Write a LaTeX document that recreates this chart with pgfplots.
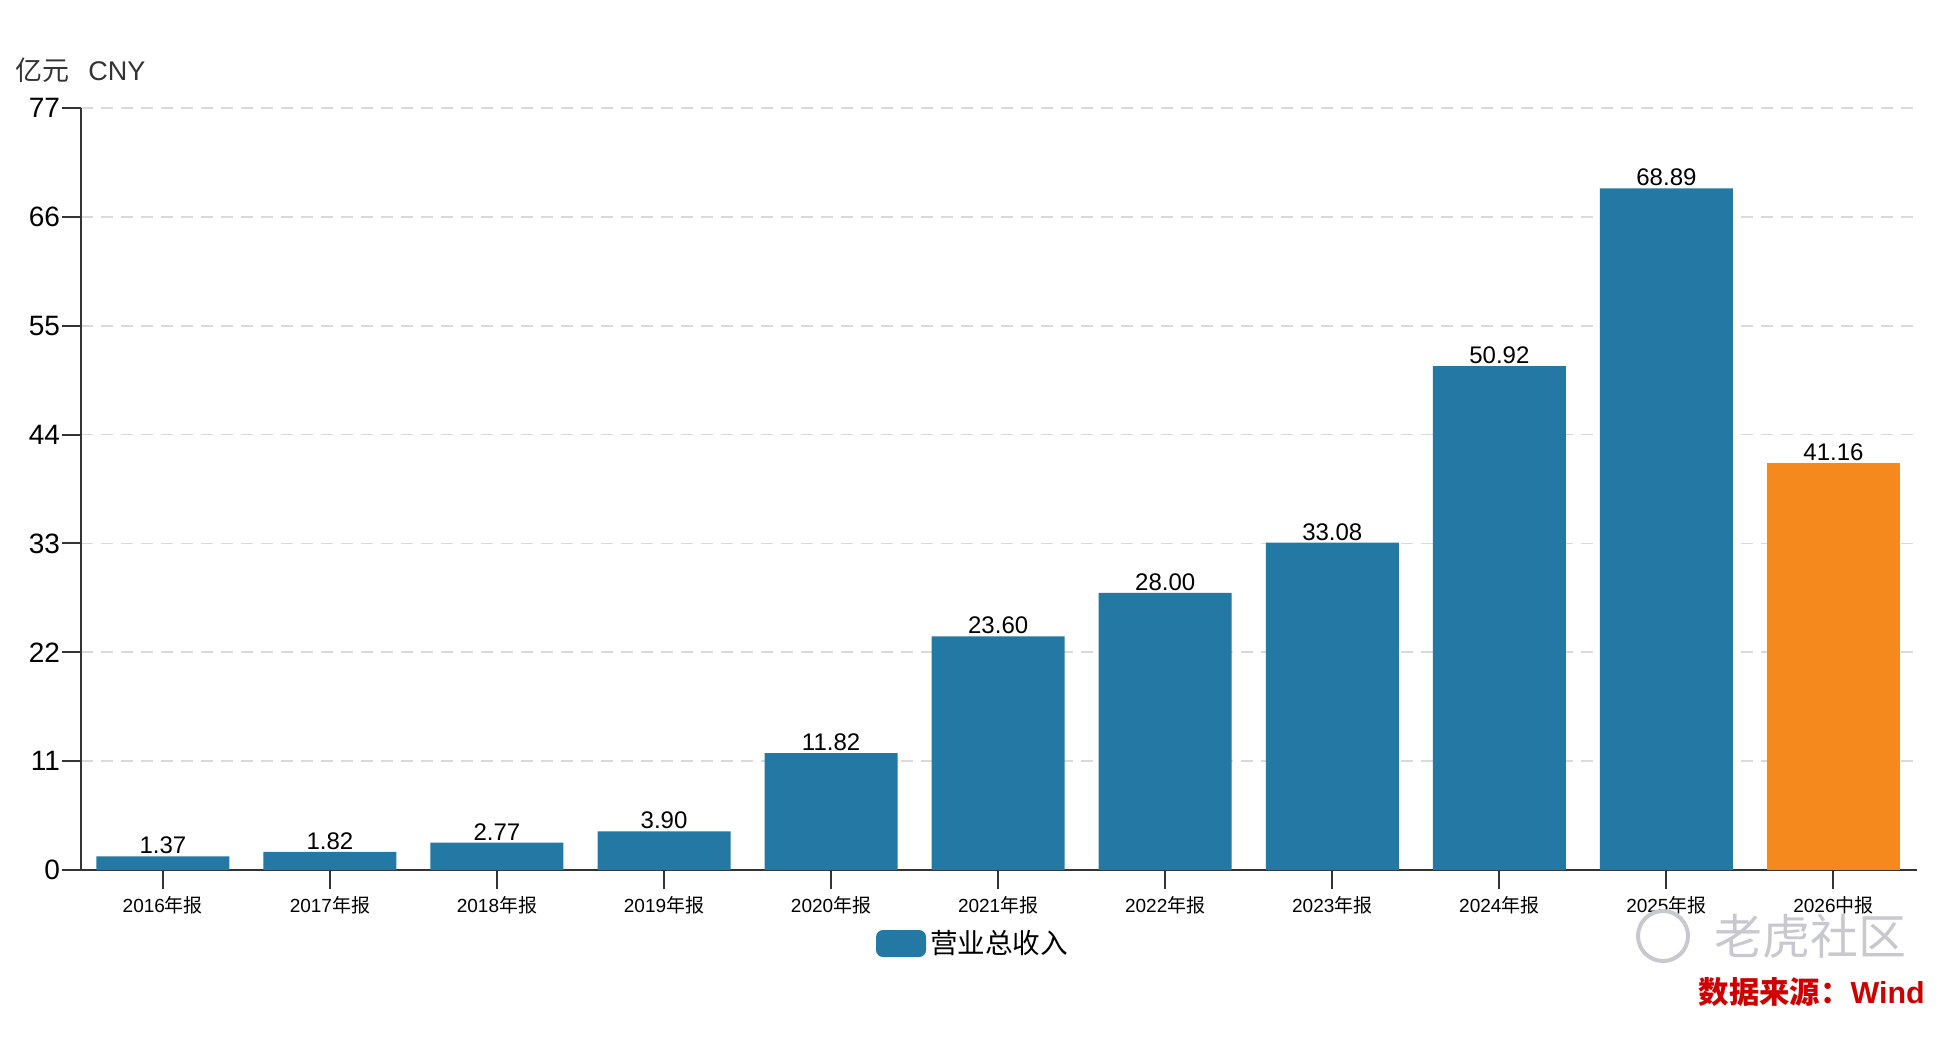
\documentclass[border=0pt]{standalone}
\usepackage{fontspec}
\setmainfont{Liberation Sans}
\newfontfamily\cjk{Noto Sans CJK SC}
\usepackage{pgfplots}
\pgfplotsset{compat=1.18}
\definecolor{barblue}{RGB}{35,120,164}
\definecolor{barorange}{RGB}{246,137,30}
\definecolor{axgray}{RGB}{51,51,51}
\definecolor{gridgray}{RGB}{218,218,218}
\definecolor{srcred}{RGB}{208,0,0}
\definecolor{wmgray}{RGB}{200,201,206}
\begin{document}
\begin{tikzpicture}[x=1pt,y=1pt]
\path (0,0) rectangle (972,523);
\begin{axis}[
  at={(40.5pt,88pt)}, anchor=south west,
  scale only axis, width=918pt, height=381pt,
  xmin=-0.49, xmax=10.5, ymin=0, ymax=77,
  ytick={0,11,22,33,44,55,66,77},
  xtick={0,1,2,3,4,5,6,7,8,9,10},
  xticklabels={{2016{\cjk 年报}},{2017{\cjk 年报}},{2018{\cjk 年报}},{2019{\cjk 年报}},{2020{\cjk 年报}},{2021{\cjk 年报}},{2022{\cjk 年报}},{2023{\cjk 年报}},{2024{\cjk 年报}},{2025{\cjk 年报}},{2026{\cjk 中报}}},
  axis x line=bottom, axis y line=left,
  axis line style={axgray, line width=1pt, -},
  tick align=outside,
  major tick length=9.5pt,
  tick style={axgray, line width=1pt},
  ymajorgrids,
  major grid style={gridgray, line width=0.8pt, dash pattern=on 6pt off 4pt},
  /pgf/number format/assume math mode=true,
  yticklabel style={font=\fontsize{14}{14}\selectfont, text=black, inner sep=0.8pt},
  xticklabel style={font=\fontsize{9.5}{10}\selectfont, text=black},
  ybar, bar width=0.796, bar shift=0pt,
  nodes near coords={\pgfmathprintnumber[fixed,fixed zerofill,precision=2]{\pgfplotspointmeta}},
  every node near coord/.append style={font=\fontsize{12}{12}\selectfont, text=black, anchor=south, inner sep=1pt},
  legend style={at={(axis description cs:0.4864,-0.0965)}, anchor=center, draw=none, fill=none,
    font=\fontsize{13.8}{14}\selectfont, legend cell align=left},
  legend image code/.code={\fill[barblue, rounded corners=3.5pt] (0pt,-6.75pt) rectangle (25pt,6.75pt);},
]
\addplot[fill=barblue, draw=none] coordinates {(0,1.37) (1,1.82) (2,2.77) (3,3.90) (4,11.82) (5,23.60) (6,28.00) (7,33.08) (8,50.92) (9,68.89)};
\addlegendentry{{\cjk 营业总收入}}
\addplot[fill=barorange, draw=none, forget plot] coordinates {(10,41.16)};
\end{axis}
\node[anchor=west, text=axgray, font=\fontsize{13.5}{14}\selectfont, inner sep=0pt] at (7.5,488) {{\cjk 亿元}\hspace{9.5pt}CNY};
\draw[wmgray, line width=2pt] (831.5,55) circle (12.5);
\node[text=wmgray, font=\fontsize{24}{24}\selectfont, inner sep=0pt] at (905,55) {\cjk 老虎社区};
\node[anchor=east, text=srcred, font=\fontsize{15.2}{16}\selectfont\bfseries, inner sep=0pt] at (962.5,27) {{\cjk 数据来源：}Wind};
\end{tikzpicture}
\end{document}
